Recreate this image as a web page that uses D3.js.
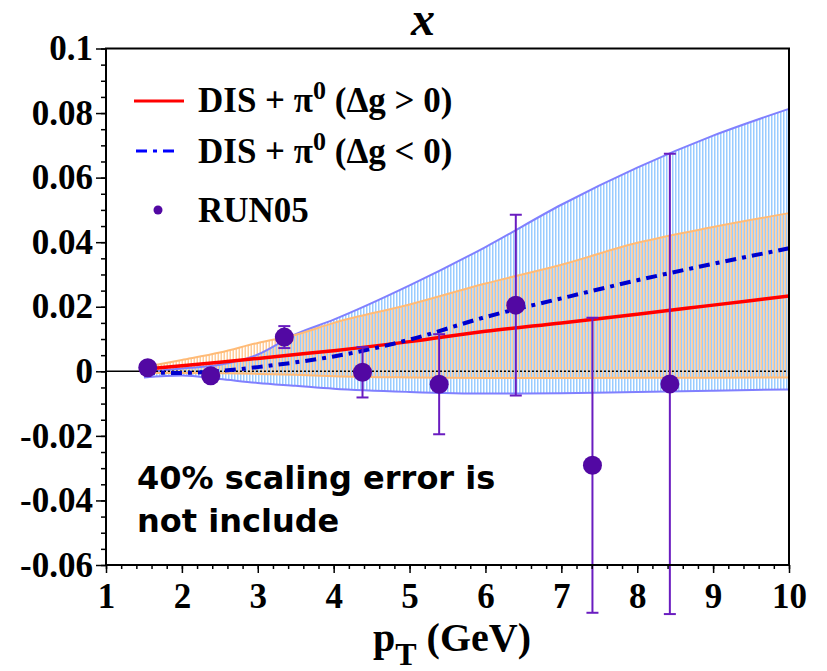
<!DOCTYPE html>
<html>
<head>
<meta charset="utf-8">
<script src="https://cdn.jsdelivr.net/npm/d3@7"></script>
<style>
  body { margin: 0; background: #fff; }
  svg text { font-family: "Liberation Serif", "Times New Roman", serif; font-weight: bold; }
</style>
</head>
<body>
<div id="chart"></div>
<script>
var width = 827,
    height = 671;

// theory curves, sampled in pT
var ptGrid      = [1.5, 2, 2.5, 3, 3.5, 4, 5, 6, 7, 8, 9, 10];
var dgPos       = [0.0007, 0.0017, 0.0028, 0.0040, 0.0052, 0.0064, 0.0092, 0.0124, 0.0150, 0.0177, 0.0205, 0.0233];
var dgNeg       = [-0.0004, -0.0005, 0.0001, 0.0013, 0.0028, 0.0046, 0.0098, 0.0168, 0.0226, 0.0282, 0.0333, 0.0381];
var blueBandUp  = [-0.0003, 0.0009, 0.0020, 0.0052, 0.0115, 0.0160, 0.0266, 0.0385, 0.0516, 0.0631, 0.0730, 0.0813];
var blueBandLo  = [-0.0019, -0.0013, -0.0024, -0.0036, -0.0045, -0.0054, -0.0064, -0.0069, -0.0068, -0.0064, -0.0060, -0.0056];
var orangeBandUp = [0.0013, 0.0035, 0.0058, 0.0088, 0.0113, 0.0150, 0.0207, 0.0272, 0.0330, 0.0398, 0.0447, 0.0490];
var orangeBandLo = [-0.0005, -0.0005, -0.0006, -0.0008, -0.0011, -0.0015, -0.0019, -0.0021, -0.0021, -0.0020, -0.0020, -0.0019];

// RUN05 data
var runPt  = [1.55, 2.38, 3.35, 4.38, 5.39, 6.40, 7.41, 8.43];
var runA   = [0.0011, -0.0014, 0.0106, -0.0003, -0.0040, 0.0205, -0.0291, -0.0039];
var runErr = [0.0004, 0.0004, 0.0034, 0.0078, 0.0155, 0.0280, 0.0457, 0.0713];

var xTicks = [1, 2, 3, 4, 5, 6, 7, 8, 9, 10];
var yTicks = [-0.06, -0.04, -0.02, 0, 0.02, 0.04, 0.06, 0.08, 0.1];

var x = d3.scaleLinear().domain([1, 10]).range([106, 789]);
var y = d3.scaleLinear().domain([-0.06, 0.1]).range([565, 48.5]);

var svg = d3.select("#chart")
  .append("svg")
  .attr("width", width)
  .attr("height", height);

var defs = svg.append("defs");

// vertical hatching like the ROOT fill styles
var pBlue = defs.append("pattern")
  .attr("id", "hatchBlue")
  .attr("patternUnits", "userSpaceOnUse")
  .attr("width", 3).attr("height", 10);
pBlue.append("rect").attr("x", 0).attr("y", 0).attr("width", 1.5).attr("height", 10).attr("fill", "#99ccff");

var pOrange = defs.append("pattern")
  .attr("id", "hatchOrange")
  .attr("patternUnits", "userSpaceOnUse")
  .attr("width", 3).attr("height", 10);
pOrange.append("rect").attr("x", 1.5).attr("y", 0).attr("width", 1.5).attr("height", 10).attr("fill", "#ffcc99");

var bandData = function(up, lo) {
  return ptGrid.map(function(p, i) { return { p: p, up: up[i], lo: lo[i] }; });
};

var area = d3.area()
  .curve(d3.curveMonotoneX)
  .x(function(d) { return x(d.p); })
  .y0(function(d) { return y(d.lo); })
  .y1(function(d) { return y(d.up); });

var edge = function(key) {
  return d3.line().curve(d3.curveMonotoneX)
    .x(function(d) { return x(d.p); })
    .y(function(d) { return y(d[key]); });
};

var blue = bandData(blueBandUp, blueBandLo);
var orange = bandData(orangeBandUp, orangeBandLo);

svg.append("path").datum(blue).attr("d", area).attr("fill", "url(#hatchBlue)");
svg.append("path").datum(orange).attr("d", area).attr("fill", "url(#hatchOrange)");

svg.append("path").datum(blue).attr("d", edge("up")).attr("fill", "none").attr("stroke", "#8080ff").attr("stroke-width", 2);
svg.append("path").datum(blue).attr("d", edge("lo")).attr("fill", "none").attr("stroke", "#8080ff").attr("stroke-width", 2);
svg.append("path").datum(orange).attr("d", edge("up")).attr("fill", "none").attr("stroke", "#ffbb77").attr("stroke-width", 2);
svg.append("path").datum(orange).attr("d", edge("lo")).attr("fill", "none").attr("stroke", "#ffbb77").attr("stroke-width", 2);

// zero line: solid at the start, dotted after
svg.append("line")
  .attr("x1", x(1)).attr("x2", x(1.5))
  .attr("y1", y(0)).attr("y2", y(0))
  .attr("stroke", "#000").attr("stroke-width", 1.5);
svg.append("line")
  .attr("x1", x(1.5)).attr("x2", x(10))
  .attr("y1", y(0)).attr("y2", y(0))
  .attr("stroke", "#000").attr("stroke-width", 1.5)
  .attr("stroke-dasharray", "2,2");

// theory lines
var curve = function(vals) {
  return d3.line().curve(d3.curveMonotoneX)
    .x(function(d, i) { return x(ptGrid[i]); })
    .y(function(d) { return y(d); })(vals);
};

svg.append("path")
  .attr("d", curve(dgPos))
  .attr("fill", "none").attr("stroke", "#ff0000").attr("stroke-width", 3.5);

svg.append("path")
  .attr("d", curve(dgNeg))
  .attr("fill", "none").attr("stroke", "#0000cc").attr("stroke-width", 4)
  .attr("stroke-dasharray", "11,6,4,6");

// data points with error bars
var pts = runPt.map(function(p, i) { return { p: p, a: runA[i], e: runErr[i] }; });
var ptCol = "#5208a3",
    barCol = "#6a1cc0";

var g = svg.selectAll(".pt").data(pts).enter().append("g").attr("class", "pt");
g.append("line")
  .attr("x1", function(d) { return x(d.p); })
  .attr("x2", function(d) { return x(d.p); })
  .attr("y1", function(d) { return y(d.a - d.e); })
  .attr("y2", function(d) { return y(d.a + d.e); })
  .attr("stroke", barCol).attr("stroke-width", 2);
[-1, 1].forEach(function(s) {
  g.append("line")
    .attr("x1", function(d) { return x(d.p) - 6; })
    .attr("x2", function(d) { return x(d.p) + 6; })
    .attr("y1", function(d) { return y(d.a + s * d.e); })
    .attr("y2", function(d) { return y(d.a + s * d.e); })
    .attr("stroke", barCol).attr("stroke-width", 2);
});
g.append("circle")
  .attr("cx", function(d) { return x(d.p); })
  .attr("cy", function(d) { return y(d.a); })
  .attr("r", 9.5)
  .attr("fill", ptCol);

// axes
var xMinor = d3.range(1, 10.001, 0.2);
var yMinor = d3.range(-0.06, 0.1001, 0.005);

svg.append("g")
  .attr("transform", "translate(0," + y(-0.06) + ")")
  .call(d3.axisBottom(x).tickValues(xMinor).tickSize(4).tickFormat(""))
  .call(function(a) { a.select(".domain").remove(); a.selectAll("line").attr("stroke-width", 1.5); });

var xAx = svg.append("g")
  .attr("transform", "translate(0," + y(-0.06) + ")")
  .call(d3.axisBottom(x).tickValues(xTicks).tickSize(8).tickPadding(10).tickFormat(d3.format("d")));
xAx.select(".domain").remove();
xAx.selectAll("line").attr("stroke-width", 1.5);
xAx.selectAll("text").attr("font-size", 35).attr("fill", "#000")
  .style("font-family", "'Liberation Serif', serif").style("font-weight", "bold");

svg.append("g")
  .attr("transform", "translate(" + x(1) + ",0)")
  .call(d3.axisLeft(y).tickValues(yMinor).tickSize(5).tickFormat(""))
  .call(function(a) { a.select(".domain").remove(); a.selectAll("line").attr("stroke-width", 1.5); });

var yAx = svg.append("g")
  .attr("transform", "translate(" + x(1) + ",0)")
  .call(d3.axisLeft(y).tickValues(yTicks).tickSize(10).tickPadding(3)
    .tickFormat(function(d) { return String(+d.toFixed(2)); }));
yAx.select(".domain").remove();
yAx.selectAll("line").attr("stroke-width", 1.5);
yAx.selectAll("text").attr("font-size", 35).attr("fill", "#000")
  .style("font-family", "'Liberation Serif', serif").style("font-weight", "bold");

// frame
svg.append("rect")
  .attr("x", x(1)).attr("y", y(0.1))
  .attr("width", x(10) - x(1)).attr("height", y(-0.06) - y(0.1))
  .attr("fill", "none").attr("stroke", "#000").attr("stroke-width", 2);

// title
svg.append("text")
  .attr("x", 423).attr("y", 35)
  .attr("text-anchor", "middle")
  .attr("font-size", 48)
  .attr("font-style", "italic")
  .text("x");

// x axis title
var xt = svg.append("text").attr("x", 373).attr("y", 651).attr("font-size", 40);
xt.append("tspan").text("p");
xt.append("tspan").attr("font-size", 32).attr("dy", 14).text("T");
xt.append("tspan").attr("dy", -14).text(" (GeV)");

// legend
var leg = svg.append("g");
leg.append("line").attr("x1", 134).attr("x2", 184).attr("y1", 101).attr("y2", 101)
  .attr("stroke", "#ff0000").attr("stroke-width", 3);
leg.append("line").attr("x1", 136).attr("x2", 178).attr("y1", 151).attr("y2", 151)
  .attr("stroke", "#0000ff").attr("stroke-width", 3).attr("stroke-dasharray", "11,6,4,6");
leg.append("circle").attr("cx", 158).attr("cy", 210).attr("r", 4.5).attr("fill", ptCol);

[["DIS + π", " (Δg > 0)", 112], ["DIS + π", " (Δg < 0)", 163]].forEach(function(l) {
  var t = leg.append("text").attr("x", 198).attr("y", l[2]).attr("font-size", 35);
  t.append("tspan").text(l[0]);
  t.append("tspan").attr("font-size", 26).attr("dy", -13).text("0");
  t.append("tspan").attr("dy", 13).text(l[1]);
});
leg.append("text").attr("x", 198).attr("y", 222).attr("font-size", 35).text("RUN05");

// note
var note = svg.append("text")
  .attr("font-size", 32)
  .style("font-family", "'DejaVu Sans', sans-serif")
  .style("font-weight", "bold");
note.append("tspan").attr("x", 137).attr("y", 489).text("40% scaling error is");
note.append("tspan").attr("x", 137).attr("y", 532).text("not include");
</script>
</body>
</html>
